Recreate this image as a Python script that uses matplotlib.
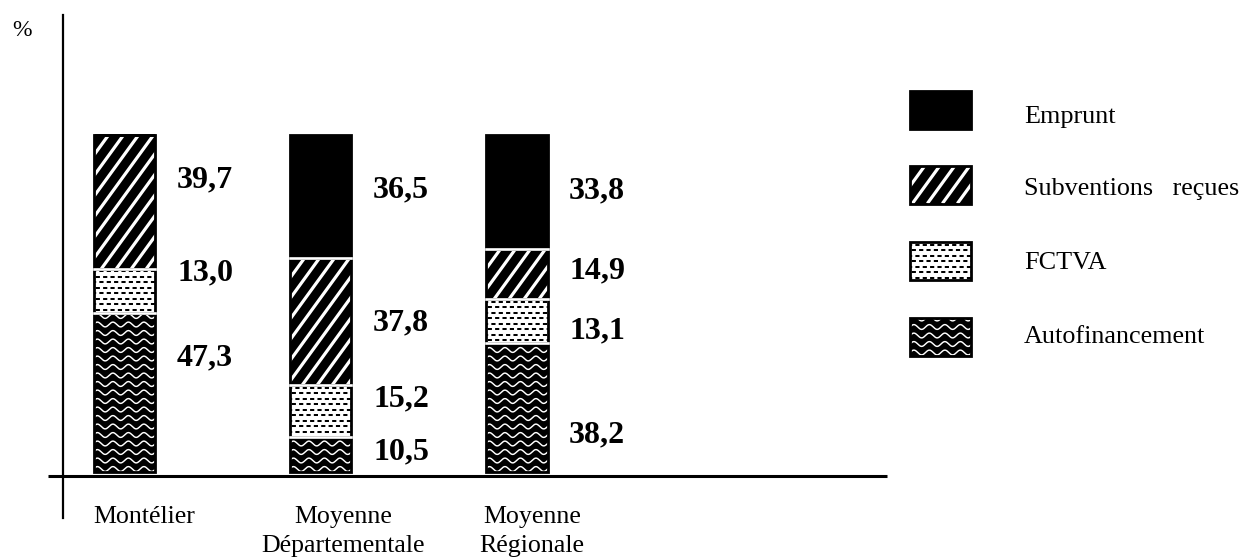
import numpy as np
import matplotlib
matplotlib.use("Agg")
import matplotlib.pyplot as plt
from matplotlib.patches import Rectangle

plt.rcParams["font.family"] = ["Liberation Serif", "DejaVu Serif"]
plt.rcParams["lines.scale_dashes"] = False

# ---- data -------------------------------------------------------------
categories = ["Montélier", "Moyenne\nDépartementale", "Moyenne\nRégionale"]
series = ["Autofinancement", "FCTVA", "Subventions reçues", "Emprunt"]
autofinancement = [47.3, 10.5, 38.2]
fctva = [13.0, 15.2, 13.1]
subventions = [39.7, 37.8, 14.9]
emprunt = [0.0, 36.5, 33.8]
value_labels = [
    ["47,3", "13,0", "39,7", None],
    ["10,5", "15,2", "37,8", "36,5"],
    ["38,2", "13,1", "14,9", "33,8"],
]
legend_order = ["Emprunt", "Subventions   reçues", "FCTVA", "Autofinancement"]
legend_kinds = ["solid", "stripes", "dashes", "waves"]

# ---- layout -----------------------------------------------------------
W, H = 1246, 558
label_y = [[33.8, 59.0, 86.6, None],
           [5.9, 21.7, 44.2, 83.7],
           [11.0, 41.8, 59.6, 83.4]]
cat_label_x = [0.102, 1.115, 2.079]
cat_line_y = [-15.1, -23.7]
bar_width = 0.316
kinds = ["waves", "dashes", "stripes", "solid"]

fig = plt.figure(figsize=(W / 100, H / 100), dpi=100)
ax = fig.add_axes([63 / W, 40 / H, 824 / W, 503 / H])
ax.set_xlim(-0.3138, 3.890)
ax.set_ylim(-13.65, 135.61)
for s in ["top", "right", "bottom"]:
    ax.spines[s].set_visible(False)
ax.spines["left"].set_linewidth(1.6)
ax.set_xticks([])
ax.set_yticks([])
ax.patch.set_alpha(0)


def add_pattern(axis, patch, kind):
    """Overlay a fill pattern on a rectangle, drawn in pixel units."""
    if kind == "solid":
        return
    inv = axis.transData.inverted()
    bb = patch.get_window_extent()
    x0, y0, x1, y1 = bb.x0, bb.y0, bb.x1, bb.y1
    lines = []
    if kind == "waves":
        xs = np.linspace(x0 - 4, x1 + 4, 240)
        yy = y0 + 3.0
        while yy < y1 + 3:
            ys = yy + 2.4 * np.sin(2 * np.pi * (xs - x0) / 15.5)
            d = inv.transform(np.column_stack([xs, ys]))
            lines.append(axis.plot(d[:, 0], d[:, 1], color="white", lw=1.05,
                                   zorder=3)[0])
            yy += 8.5
    elif kind == "dashes":
        yy = y1 - 2.6
        k = 0
        while yy > y0 - 2:
            d = inv.transform([[x0 - 2, yy], [x1 + 2, yy]])
            off = 0.0 if k % 2 == 0 else 2.6
            lines.append(axis.plot(d[:, 0], d[:, 1], color="black", lw=1.45,
                                   linestyle=(off, (3.0, 2.3)), zorder=3)[0])
            yy -= 5.5
            k += 1
    elif kind == "stripes":
        t = 1 / np.tan(np.radians(54))
        h = y1 - y0
        c = x0 - h * t - 15
        while c < x1 + 15:
            d = inv.transform([[c, y0], [c + h * t, y1]])
            lines.append(axis.plot(d[:, 0], d[:, 1], color="white", lw=2.3,
                                   solid_capstyle="butt", zorder=3)[0])
            c += 15.0
    for ln in lines:
        ln.set_clip_path(patch)


face = {"solid": "black", "stripes": "black", "dashes": "white", "waves": "black"}

x = np.arange(len(categories))
stack = [autofinancement, fctva, subventions, emprunt]
bottom = np.zeros(len(categories))
boundaries = []
for vals, kind in zip(stack, kinds):
    vals = np.asarray(vals)
    bars = ax.bar(x, vals, bar_width, bottom=bottom, color=face[kind],
                  edgecolor="none", linewidth=0, zorder=2)
    for b, v in zip(bars, vals):
        if v > 0:
            add_pattern(ax, b, kind)
    ax.bar(x, vals, bar_width, bottom=bottom, fill=False, edgecolor="black",
           linewidth=2.0, zorder=4)
    bottom = bottom + vals
    boundaries.append(bottom.copy())

# white gaps between stacked segments
totals = bottom
for bnd in boundaries[:-1]:
    for xi, yb, tot in zip(x, bnd, totals):
        if 0 < yb < tot - 0.01:
            ax.plot([xi - bar_width / 2, xi + bar_width / 2], [yb, yb],
                    color="white", lw=1.9, solid_capstyle="projecting", zorder=5)

# value labels
for i in range(len(categories)):
    for j in range(4):
        if value_labels[i][j] is None:
            continue
        ax.annotate(value_labels[i][j], xy=(x[i] + bar_width / 2, label_y[i][j]),
                    xytext=(15.5, 0), textcoords="offset points",
                    ha="left", va="center", fontsize=23, fontweight="bold")

# baseline axis
ax.plot([-0.390, 3.890], [-1.2, -1.2], color="black", lw=2.2,
        solid_capstyle="butt", clip_on=False, zorder=6)

# category labels, one text per line
for xc, lab in zip(cat_label_x, categories):
    for k, line in enumerate(lab.split("\n")):
        ax.text(xc, cat_line_y[k], line, ha="center", va="baseline",
                fontsize=18.6, clip_on=False)

fig.text(12 / W, 1 - 31 / H, "%", ha="left", va="center", fontsize=17)

# legend
lax = fig.add_axes([0, 0, 1, 1])
lax.set_xlim(0, W)
lax.set_ylim(H, 0)
lax.axis("off")
lax.patch.set_alpha(0)
box_cy = [109.5, 184.5, 261.0, 336.5]
text_base = [122.7, 195.0, 269.3, 343.3]
for name, kind, cy, tb in zip(legend_order, legend_kinds, box_cy, text_base):
    r = Rectangle((910, cy - 19), 61, 38, facecolor=face[kind],
                  edgecolor="none", zorder=2)
    lax.add_patch(r)
    add_pattern(lax, r, kind)
    lax.add_patch(Rectangle((910, cy - 19), 61, 38, fill=False,
                            edgecolor="black", lw=2.0, zorder=4))
    lax.text(1024, tb, name, ha="left", va="baseline", fontsize=18.8)

fig.savefig("out.png", dpi=100)
